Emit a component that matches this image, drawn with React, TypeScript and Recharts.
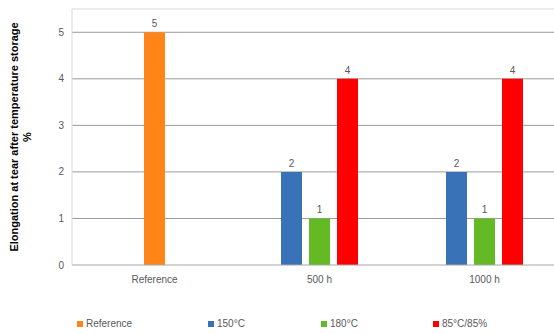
import React from 'react'
import { BarChart, Bar, XAxis, YAxis, CartesianGrid, Legend, LabelList, ReferenceLine } from 'recharts'

// Colours
const ORANGE = '#FF8519'
const BLUE = '#3A72B8'
const GREEN = '#63BA24'
const RED = '#FF0000'
const TEXT = '#595959'
const FONT = '"Liberation Sans", Arial, sans-serif'

const categories = ['Reference', '500 h', '1000 h']
const referenceValues = [5, null, null]
const values150 = [null, 2, 2]
const values180 = [null, 1, 1]
const values85 = [null, 4, 4]
const yTicks = [0, 1, 2, 3, 4, 5]

const seriesLegend = [
  { name: 'Reference', color: ORANGE },
  { name: '150°C', color: BLUE },
  { name: '180°C', color: GREEN },
  { name: '85°C/85%', color: RED },
]
const legendX = [77, 208, 321, 433]

const data = categories.map((c, i) => ({
  cat: c,
  refVal: referenceValues[i],
  c150: values150[i],
  c180: values180[i],
  c85: values85[i],
}))

const hideEmpty = (v: any) => (v === null || v === undefined ? '' : v)

function LegendRow() {
  return (
    <div style={{ position: 'relative', height: 20, fontFamily: FONT, fontSize: 10, color: TEXT }}>
      {seriesLegend.map((s, i) => (
        <div
          key={s.name}
          style={{ position: 'absolute', left: legendX[i], top: 13, display: 'flex', alignItems: 'center', whiteSpace: 'nowrap' }}
        >
          <span style={{ display: 'inline-block', width: 6, height: 6, background: s.color, marginRight: 3 }} />
          {s.name}
        </div>
      ))}
    </div>
  )
}

function YLabel({ viewBox }: any) {
  const cy = viewBox.y + viewBox.height / 2
  return (
    <g fontFamily={FONT} fontSize={11} fontWeight="bold">
      <text x={18} y={cy} fill="#000" textAnchor="middle" transform={`rotate(-90 18 ${cy})`}>
        Elongation at tear after temperature storage
      </text>
      <text x={31} y={cy} fill="#000" textAnchor="middle" transform={`rotate(-90 31 ${cy})`}>
        %
      </text>
    </g>
  )
}

const labelStyle = { fontSize: 10, fontFamily: FONT, fill: TEXT }

export default function App() {
  return (
    <div style={{ position: 'absolute', left: 0, top: 0, width: 554, height: 334, overflow: 'hidden', background: '#fff' }}>
      <BarChart
        width={580}
        height={334}
        data={data}
        margin={{ top: 9, right: 13, bottom: 6, left: 32 }}
        barGap={7}
        barSize={21}
      >
        <CartesianGrid vertical={false} stroke="#9a9a9a" horizontalValues={[1, 2, 3, 4, 5]} />
        <ReferenceLine y={5.5} stroke="#d9d9d9" />
        <XAxis
          dataKey="cat"
          height={40}
          axisLine={{ stroke: '#a6a6a6' }}
          tickLine={false}
          tick={{ fontSize: 10, fontFamily: FONT, fill: TEXT, dy: 3 }}
        />
        <YAxis
          width={40}
          domain={[0, 5.5]}
          ticks={yTicks}
          axisLine={{ stroke: '#d9d9d9' }}
          tickLine={false}
          tick={{ fontSize: 10, fontFamily: FONT, fill: TEXT }}
          label={<YLabel />}
        />
        <Legend verticalAlign="bottom" height={23} wrapperStyle={{ left: 0, width: 554 }} content={() => <LegendRow />} />
        <Bar dataKey="c150" name="150°C" stackId="a" fill={BLUE} isAnimationActive={false}>
          <LabelList dataKey="c150" position="top" formatter={hideEmpty} style={labelStyle} />
        </Bar>
        <Bar dataKey="refVal" name="Reference" stackId="b" fill={ORANGE} isAnimationActive={false}>
          <LabelList dataKey="refVal" position="top" formatter={hideEmpty} style={labelStyle} />
        </Bar>
        <Bar dataKey="c180" name="180°C" stackId="b" fill={GREEN} isAnimationActive={false}>
          <LabelList dataKey="c180" position="top" formatter={hideEmpty} style={labelStyle} />
        </Bar>
        <Bar dataKey="c85" name="85°C/85%" stackId="c" fill={RED} isAnimationActive={false}>
          <LabelList dataKey="c85" position="top" formatter={hideEmpty} style={labelStyle} />
        </Bar>
      </BarChart>
    </div>
  )
}
